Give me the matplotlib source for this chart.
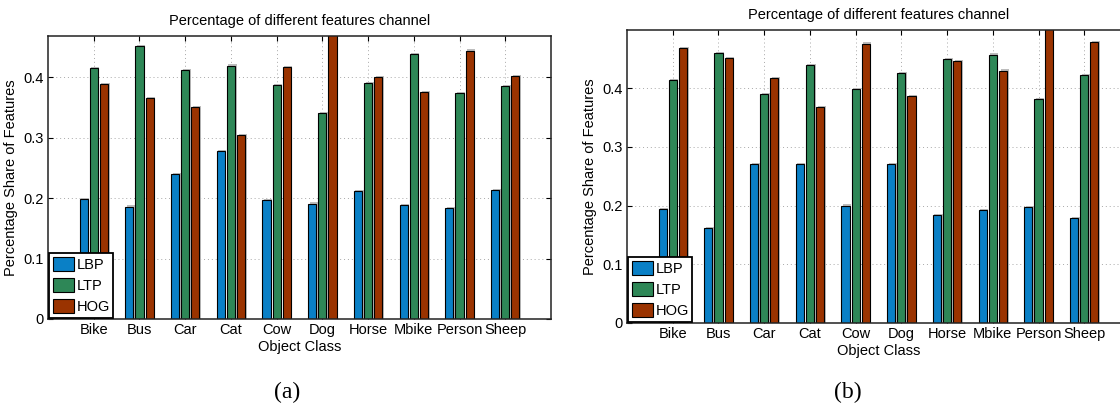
import matplotlib
matplotlib.use("Agg")
import matplotlib.pyplot as plt
import numpy as np


classes = ["Bike", "Bus", "Car", "Cat", "Cow", "Dog", "Horse", "Mbike", "Person", "Sheep"]
series_names = ["LBP", "LTP", "HOG"]

# panel (a)
lbp_a = [0.198, 0.186, 0.239, 0.277, 0.196, 0.191, 0.211, 0.188, 0.183, 0.213]
ltp_a = [0.415, 0.451, 0.411, 0.419, 0.387, 0.341, 0.390, 0.438, 0.373, 0.385]
hog_a = [0.388, 0.365, 0.351, 0.304, 0.417, 0.490, 0.400, 0.375, 0.444, 0.402]

# panel (b)
lbp_b = [0.194, 0.162, 0.271, 0.270, 0.200, 0.270, 0.184, 0.193, 0.197, 0.178]
ltp_b = [0.413, 0.460, 0.390, 0.439, 0.399, 0.426, 0.449, 0.457, 0.381, 0.422]
hog_b = [0.468, 0.451, 0.417, 0.368, 0.476, 0.386, 0.446, 0.430, 0.520, 0.478]

y_ticks = [0, 0.1, 0.2, 0.3, 0.4]
panel_labels = ["(a)", "(b)"]

colors = ["#0a80c6", "#2e8757", "#9a3300"]

plt.rcParams['font.family'] = ['Liberation Sans', 'DejaVu Sans']

W, H = 1120, 408
FS = 10.5


def px_axes(fig, left, top, right, bottom):
    return fig.add_axes([left / W, (H - bottom) / H, (right - left) / W, (bottom - top) / H])


def draw_panel(ax, data, ymax):
    x = np.arange(1, len(classes) + 1)
    width = 0.178
    offsets = [-0.222, 0.0, 0.222]
    for vals, off, col, name in zip(data, offsets, colors, series_names):
        # grey drop shadow like the MATLAB export
        ax.bar(x + off + 0.035, np.array(vals) + 0.002, width, color="#bdbdbd",
               edgecolor="none", zorder=1, label="_nolegend_")
        ax.bar(x + off, vals, width, color=col, edgecolor="black",
               linewidth=0.8, zorder=2, label=name)

    ax.set_xlim(0, 11)
    ax.set_ylim(0, ymax)
    ax.set_xticks(x)
    ax.set_xticklabels(classes, fontsize=FS)
    ax.set_yticks(y_ticks)
    ax.set_yticklabels(["0", "0.1", "0.2", "0.3", "0.4"], fontsize=FS)
    ax.tick_params(direction="in", length=3.5, top=True, right=True, pad=3, width=0.8)
    ax.set_axisbelow(True)
    ax.grid(True, linestyle=(0, (1, 3)), color="#a8a8a8", linewidth=0.7)
    for s in ax.spines.values():
        s.set_linewidth(1.1)
        s.set_color("#222222")
    ax.set_title("Percentage of different features channel", fontsize=FS, pad=8)
    ax.set_xlabel("Object Class", fontsize=FS, labelpad=2)
    ax.set_ylabel("Percentage Share of Features", fontsize=FS, labelpad=4)
    leg = ax.legend(loc="lower left", fontsize=10.5, fancybox=False, framealpha=1,
                    edgecolor="black", borderaxespad=0.1, handlelength=1.45,
                    handleheight=1.15, handletextpad=0.15, labelspacing=0.4,
                    borderpad=0.25)
    leg.get_frame().set_linewidth(1.3)


fig = plt.figure(figsize=(W / 100, H / 100), dpi=100)

ax1 = px_axes(fig, 48, 36, 551, 319)
draw_panel(ax1, [lbp_a, ltp_a, hog_a], 0.468)

ax2 = px_axes(fig, 627, 30, 1130, 323)
draw_panel(ax2, [lbp_b, ltp_b, hog_b], 0.499)

fig.text(287 / W, 1 - 392 / H, panel_labels[0], fontsize=17, family="Liberation Serif",
         ha="center", va="center")
fig.text(848 / W, 1 - 392 / H, panel_labels[1], fontsize=17, family="Liberation Serif",
         ha="center", va="center")

fig.savefig("out.png", dpi=100)
